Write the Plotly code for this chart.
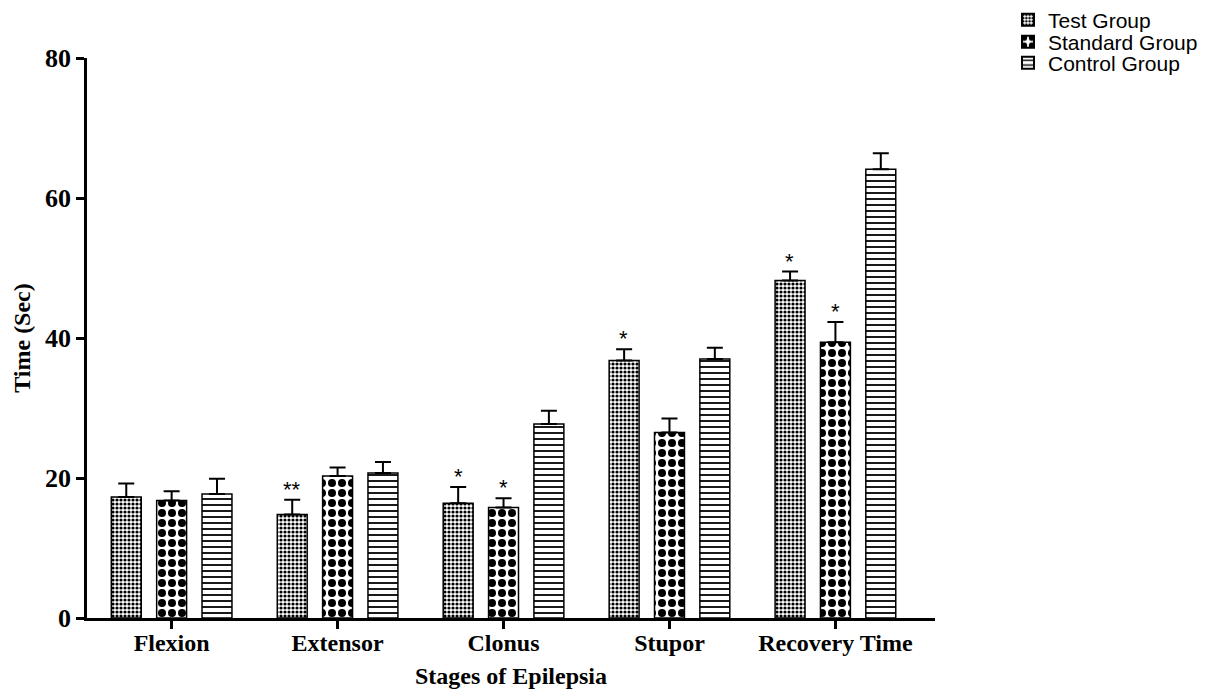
import plotly.graph_objects as go

stages = ["Flexion", "Extensor", "Clonus", "Stupor", "Recovery Time"]
test_vals = [17.3, 14.8, 16.4, 36.8, 48.2]
test_err = [1.9, 2.1, 2.3, 1.6, 1.3]
standard_vals = [16.8, 20.3, 15.8, 26.5, 39.4]
standard_err = [1.3, 1.2, 1.3, 2.0, 2.9]
control_vals = [17.7, 20.7, 27.7, 37.0, 64.1]
control_err = [2.2, 1.6, 1.9, 1.6, 2.3]
test_sig = ["", "**", "*", "*", "*"]
standard_sig = ["", "", "*", "", "*"]
control_sig = ["", "", "", "", ""]

series = [
    ("Test Group", test_vals, test_err, test_sig, dict(shape=".", size=4, solidity=0.5), "legend"),
    ("Standard Group", standard_vals, standard_err, standard_sig, dict(shape=".", size=10, solidity=0.5), "legend2"),
    ("Control Group", control_vals, control_err, control_sig, dict(shape="-", size=6, solidity=0.3), "legend3"),
]

W, H = 1211, 694
OFF = 8  # page body offset
plot_left, plot_right = 84 - OFF, 935 - OFF
plot_top, plot_bottom = 58 - OFF, 618 - OFF

fig = go.Figure()
for name, vals, err, sig, pat, leg in series:
    fig.add_trace(go.Bar(
        name=name, x=stages, y=vals, legend=leg,
        marker=dict(color="white", line=dict(color="black", width=1.5),
                    pattern=dict(fgcolor="black", bgcolor="white", fillmode="replace", **pat)),
        error_y=dict(type="data", array=err, arrayminus=[0] * len(err), symmetric=False,
                     color="black", thickness=2, width=8),
    ))

# significance markers
x_range = [-0.51, 4.6]
cat_px = (plot_right - plot_left) / (x_range[1] - x_range[0])
bargap = 0.18
slot_px = cat_px * (1 - bargap) / 3
for i, (name, vals, err, sig, pat, leg) in enumerate(series):
    shift = (i - 1) * slot_px
    for s, v, e, g in zip(stages, vals, err, sig):
        if g:
            fig.add_annotation(x=s, y=v + e, text=g, showarrow=False, xshift=shift,
                               yanchor="bottom", yshift=-4,
                               font=dict(family="Liberation Sans", size=22, color="black"))

leg_font = dict(family="Liberation Sans", size=21, color="black")
leg_centers = [20 - OFF, 42 - OFF, 63 - OFF]
legends = {}
for key, cy in zip(["legend", "legend2", "legend3"], leg_centers):
    legends[key] = dict(xref="container", yref="container", x=(1008 - OFF) / W, y=1 - cy / H,
                        xanchor="left", yanchor="middle", font=leg_font,
                        bgcolor="rgba(0,0,0,0)", itemsizing="constant")

fig.update_layout(
    width=W, height=H,
    margin=dict(l=plot_left, r=W - plot_right, t=plot_top, b=H - plot_bottom),
    paper_bgcolor="white", plot_bgcolor="white",
    barmode="group", bargap=bargap, bargroupgap=0.34,
    showlegend=True,
    **legends,
    xaxis=dict(range=x_range, showline=True, linecolor="black", linewidth=2.5,
               ticks="outside", ticklen=8, tickwidth=2.5, tickcolor="black",
               ticklabelstandoff=-7,
               tickfont=dict(family="Liberation Serif", size=24, color="black", weight="bold"),
               title=dict(text="<b>Stages of Epilepsia</b>", standoff=13,
                          font=dict(family="Liberation Serif", size=24, color="black")),
               showgrid=False, zeroline=False),
    yaxis=dict(range=[0, 80], tickvals=[0, 20, 40, 60, 80], showline=True, linecolor="black",
               linewidth=2.5, ticks="outside", ticklen=8, tickwidth=2.5, tickcolor="black",
               tickfont=dict(family="Liberation Serif", size=26, color="black", weight="bold"),
               title=dict(text="<b>Time (Sec)</b>", standoff=8,
                          font=dict(family="Liberation Serif", size=24, color="black")),
               showgrid=False, zeroline=False),
)

fig.write_html("out.html")
